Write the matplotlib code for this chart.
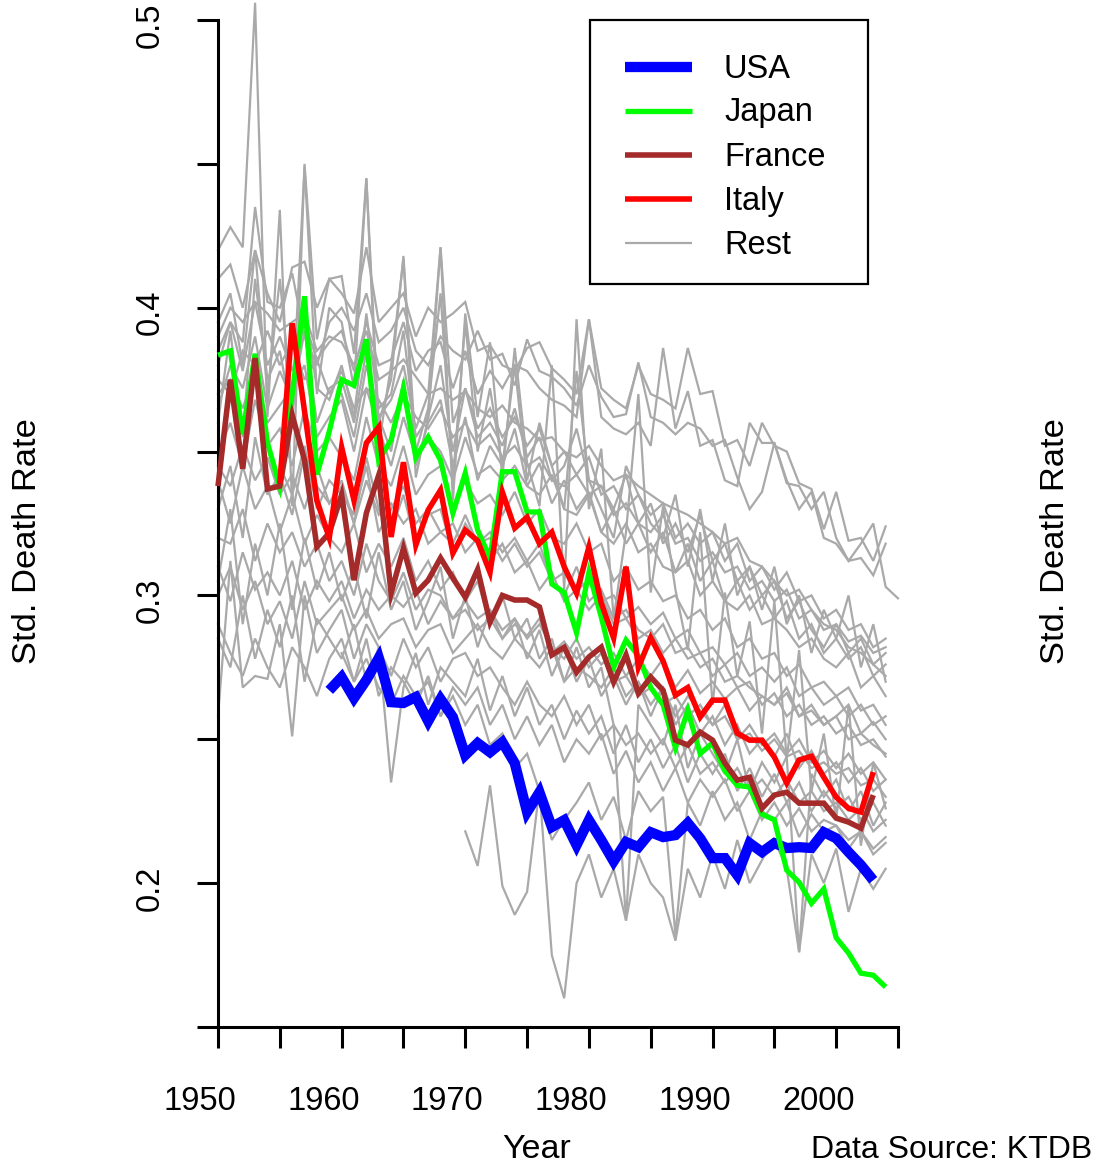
import numpy as np
import matplotlib
matplotlib.use('Agg')
import matplotlib.pyplot as plt
from matplotlib.transforms import offset_copy
from matplotlib.patches import Rectangle
from matplotlib.lines import Line2D

plt.rcParams['font.family'] = ['Liberation Sans', 'DejaVu Sans']

# ---------------- data ----------------
usa_start = 1959
usa = [0.267, 0.2716, 0.2643, 0.2706, 0.2782, 0.2629, 0.2626, 0.2647, 0.2563, 0.264,
       0.2577, 0.2445, 0.2487, 0.2455, 0.249, 0.2417, 0.2247, 0.2316, 0.2195, 0.2219,
       0.2132, 0.2219, 0.215, 0.2076, 0.2143, 0.2125, 0.2177, 0.216, 0.2167, 0.2209,
       0.2156, 0.2087, 0.2087, 0.2028, 0.2139, 0.2108, 0.2139, 0.2122, 0.2125, 0.2122,
       0.2177, 0.2156, 0.2108, 0.2063, 0.201]

japan_start = 1950
japan = [0.3835, 0.385, 0.356, 0.384, 0.353, 0.338, 0.37, 0.404, 0.342, 0.357,
         0.375, 0.373, 0.389, 0.347, 0.354, 0.372, 0.348, 0.355, 0.347, 0.3286,
         0.3425, 0.3227, 0.313, 0.343, 0.343, 0.329, 0.329, 0.304, 0.301, 0.287,
         0.308, 0.2925, 0.275, 0.2845, 0.279, 0.268, 0.262, 0.247, 0.26, 0.245,
         0.2487, 0.239, 0.234, 0.2334, 0.224, 0.222, 0.2045, 0.2003, 0.193, 0.198,
         0.181, 0.1757, 0.1687, 0.168, 0.1639]

france_start = 1950
france = [0.338, 0.375, 0.344, 0.3825, 0.337, 0.338, 0.3627, 0.347, 0.3169, 0.3217,
          0.335, 0.3053, 0.3286, 0.3418, 0.3008, 0.3164, 0.3008, 0.3053, 0.313, 0.306,
          0.2994, 0.309, 0.2907, 0.300, 0.2984, 0.2984, 0.296, 0.2793, 0.282, 0.2733,
          0.2786, 0.282, 0.2699, 0.2793, 0.266, 0.2716, 0.267, 0.2497, 0.248, 0.2525,
          0.2497, 0.2417, 0.2358, 0.2368, 0.226, 0.2306, 0.2316, 0.2278, 0.2278, 0.2278,
          0.2226, 0.2212, 0.2191, 0.2306]

italy_start = 1955
italy = [0.339, 0.3946, 0.364, 0.333, 0.32, 0.3515, 0.333, 0.353, 0.3585, 0.3203,
         0.3463, 0.3175, 0.3297, 0.3366, 0.3147, 0.3227, 0.319, 0.308, 0.3359, 0.3234,
         0.3272, 0.318, 0.322, 0.31, 0.3008, 0.3168, 0.2973, 0.2852, 0.31, 0.275,
         0.2853, 0.2772, 0.2653, 0.268, 0.2577, 0.2636, 0.2636, 0.2521, 0.2497, 0.2497,
         0.2438, 0.2348, 0.2428, 0.2441, 0.2368, 0.2299, 0.226, 0.2247, 0.2386]

# "Rest" countries: start year and values (in thousandths)
rest_starts = [1950] * 12 + [1970, 1960, 1955, 1960] + [1950] * 9
rest_values = [
    [420, 428, 421, 506, 362, 434, 331, 450, 389, 410, 411, 384, 445, 352, 380, 417, 341, 362, 421, 333,
     398, 362, 388, 341, 386, 346, 331, 380, 302, 396, 330, 351, 292, 322, 370, 301, 331, 302, 281, 322,
     262, 301, 272, 291, 252, 298, 243, 281, 232, 252, 222, 262, 213, 242, 226],
    [410, 415, 400, 420, 405, 395, 414, 416, 400, 410, 405, 398, 421, 395, 400, 405, 390, 400, 395, 398,
     402, 385, 387, 380, 378, 386, 388, 379, 375, 370, 396, 372, 368, 365, 380, 370, 368, 365, 386, 370,
     371, 352, 354, 345, 360, 352, 350, 339, 337, 323, 336, 319, 320, 312, 324],
    [380, 395, 388, 435, 402, 400, 412, 390, 380, 395, 400, 392, 405, 388, 392, 400, 385, 380, 390, 385,
     382, 392, 382, 384, 373, 389, 378, 376, 372, 366, 380, 369, 362, 363, 381, 362, 360, 356, 360, 358,
     352, 354, 341, 330, 336, 353, 339, 338, 330, 336, 320, 312, 318, 325, 303, 299],
    [395, 405, 380, 420, 370, 410, 365, 449, 370, 400, 395, 372, 445, 360, 375, 418, 350, 365, 405, 340,
     395, 350, 372, 345, 380, 340, 360, 345, 330, 378, 340, 330, 320, 345, 335, 325, 320, 335, 310, 330,
     305, 325, 300, 310, 295, 310, 290, 300, 280, 295, 285, 300, 275, 290, 270],
    [390, 400, 395, 402, 398, 392, 395, 398, 385, 390, 388, 380, 392, 375, 378, 382, 376, 370, 372, 368,
     371, 365, 362, 366, 360, 358, 354, 355, 350, 348, 352, 345, 340, 342, 338, 335, 332, 330, 328, 325,
     322, 318, 320, 312, 310, 305, 300, 302, 295, 290, 288, 282, 280, 276, 272],
    [370, 375, 365, 378, 360, 366, 372, 380, 355, 362, 368, 350, 372, 358, 345, 362, 348, 355, 350, 340,
     355, 342, 345, 340, 345, 338, 335, 342, 330, 328, 335, 322, 318, 325, 315, 318, 310, 308, 312, 300,
     305, 298, 295, 300, 290, 292, 288, 282, 285, 278, 275, 280, 268, 272, 265],
    [330, 345, 320, 355, 335, 342, 328, 350, 338, 332, 340, 325, 348, 330, 322, 335, 318, 328, 330, 315,
     325, 318, 320, 312, 318, 310, 315, 305, 300, 310, 298, 302, 292, 295, 288, 285, 290, 280, 282, 275,
     278, 270, 272, 268, 265, 262, 268, 258, 260, 255, 258, 250, 252, 248, 245],
    [300, 310, 295, 305, 290, 298, 285, 305, 290, 295, 300, 288, 295, 285, 290, 292, 282, 288, 290, 280,
     285, 290, 282, 278, 285, 280, 275, 282, 270, 275, 272, 268, 275, 265, 270, 262, 268, 258, 265, 260,
     255, 262, 250, 255, 248, 252, 245, 250, 242, 246, 240, 245, 238, 242, 236],
    [258, 312, 268, 272, 271, 290, 251, 300, 280, 288, 295, 278, 290, 282, 272, 285, 275, 282, 270, 278,
     280, 272, 275, 268, 262, 270, 262, 258, 265, 255, 262, 250, 255, 248, 252, 245, 250, 240, 248, 238,
     242, 235, 240, 232, 236, 230, 236, 228, 232, 225, 228, 222, 226, 218, 222],
    [285, 275, 300, 278, 295, 282, 300, 270, 292, 285, 278, 290, 270, 282, 235, 268, 280, 262, 275, 270,
     265, 278, 260, 272, 258, 268, 255, 262, 250, 260, 252, 258, 245, 255, 242, 250, 240, 248, 235, 245,
     238, 245, 232, 240, 230, 238, 228, 235, 225, 232, 226, 230, 222, 228, 220],
    [350, 360, 345, 368, 352, 358, 345, 365, 350, 355, 348, 340, 362, 345, 338, 352, 335, 342, 345, 330,
     340, 332, 335, 328, 336, 325, 330, 320, 318, 325, 315, 318, 305, 310, 302, 305, 298, 300, 292, 295,
     288, 292, 282, 285, 278, 280, 272, 276, 268, 270, 265, 268, 260, 262, 255],
    [360, 392, 355, 410, 375, 385, 362, 400, 372, 368, 380, 362, 398, 365, 370, 392, 355, 362, 380, 350,
     372, 355, 360, 352, 365, 348, 355, 340, 345, 358, 340, 338, 330, 342, 325, 332, 318, 325, 315, 328,
     312, 318, 305, 310, 300, 305, 292, 298, 288, 282, 290, 280, 285, 276, 280],
    [218, 206, 234, 199, 189, 197, 233, 175, 160, 200, 210, 195, 205, 187, 210, 200, 195, 180, 205, 195,
     210, 198, 215, 200, 208, 215, 205, 176, 210, 200, 212, 190, 205, 198, 205],
    [280, 270, 285, 265, 275, 270, 262, 272, 258, 265, 255, 262, 248, 252, 240, 245, 232, 215, 222, 228,
     235, 222, 230, 215, 232, 225, 230, 182, 228, 220, 232, 222, 228, 215, 225, 222, 228, 216, 224, 218,
     220, 212, 218, 210, 214],
    [345, 335, 352, 330, 340, 335, 328, 345, 322, 330, 338, 325, 330, 322, 318, 328, 318, 322, 315, 320,
     312, 318, 305, 308, 302, 305, 298, 300, 292, 296, 290, 294, 285, 288, 280, 282, 276, 280, 272, 275,
     270, 275, 265, 268, 262, 265, 258, 262, 255, 258],
    [370, 355, 380, 362, 350, 375, 345, 360, 368, 345, 362, 340, 352, 345, 358, 338, 346, 332, 340, 330,
     336, 322, 330, 318, 325, 315, 322, 308, 318, 305, 312, 298, 305, 295, 300, 292, 298, 285, 290, 280,
     285, 278, 282, 272, 276],
    [320, 318, 330, 312, 325, 315, 322, 310, 318, 305, 312, 300, 318, 305, 298, 308, 295, 302, 300, 292,
     298, 292, 295, 288, 292, 285, 290, 282, 278, 285, 275, 280, 270, 272, 265, 268, 262, 265, 258, 262,
     255, 258, 250, 252, 246, 250, 244, 246, 240, 242, 238, 240, 234, 236, 230],
    [385, 395, 378, 402, 380, 390, 378, 395, 382, 388, 392, 378, 395, 380, 382, 395, 378, 385, 388, 372,
     385, 370, 378, 372, 380, 378, 372, 368, 366, 362, 396, 362, 358, 356, 360, 352, 386, 358, 371, 352,
     354, 340, 338, 360, 353, 353, 340, 330, 336, 320, 318, 312, 313, 307, 318],
    [310, 298, 315, 302, 308, 300, 312, 295, 305, 298, 305, 292, 302, 295, 300, 296, 302, 290, 298, 292,
     295, 288, 292, 285, 290, 286, 292, 280, 284, 278, 282, 276, 280, 272, 278, 272, 278, 268, 274, 266,
     270, 264, 268, 260, 265, 262, 266, 258, 262, 255, 258, 262, 252, 256, 250],
    [365, 380, 372, 390, 365, 378, 368, 392, 360, 372, 375, 360, 385, 362, 368, 380, 358, 370, 421, 360,
     372, 358, 365, 355, 362, 352, 358, 345, 350, 342, 348, 335, 338, 330, 335, 328, 332, 320, 325, 318,
     322, 312, 318, 305, 310, 302, 308, 298, 300, 292, 295, 288, 290, 282, 285],
    [340, 325, 345, 330, 338, 322, 335, 318, 328, 320, 315, 325, 308, 318, 310, 320, 305, 312, 302, 308,
     298, 305, 290, 300, 285, 292, 278, 285, 270, 282, 268, 275, 255, 187, 262, 255, 248, 262, 240, 252,
     245, 238, 250, 232, 242, 235, 244, 176, 238, 230, 236, 225, 232, 220, 228],
    [345, 338, 352, 340, 348, 335, 342, 330, 345, 332, 338, 325, 340, 328, 332, 325, 330, 318, 322, 325,
     315, 320, 312, 318, 308, 312, 302, 308, 298, 302, 295, 300, 290, 292, 285, 288, 280, 285, 278, 280,
     272, 276, 268, 270, 262, 266, 258, 262, 255, 258, 252, 255, 248, 250, 244],
    [290, 280, 272, 285, 275, 268, 282, 275, 265, 278, 285, 270, 278, 268, 262, 272, 265, 270, 258, 268,
     262, 268, 255, 262, 250, 258, 248, 255, 242, 250, 245, 252, 238, 246, 235, 242, 232, 240, 228, 236,
     230, 236, 225, 232, 222, 228, 220, 226, 218, 222, 220, 215, 218, 212, 216],
    [375, 370, 385, 380, 392, 380, 388, 375, 382, 370, 378, 365, 372, 368, 360, 370, 362, 358, 365, 355,
     360, 352, 356, 348, 352, 345, 348, 340, 338, 342, 335, 338, 328, 332, 325, 322, 328, 318, 320, 312,
     315, 308, 310, 302, 305, 298, 302, 292, 295, 288, 290, 284, 286, 280, 282],
    [305, 330, 290, 318, 300, 325, 295, 320, 302, 315, 298, 310, 292, 315, 295, 305, 288, 298, 310, 285,
     300, 282, 295, 285, 292, 278, 288, 272, 282, 270, 278, 265, 272, 262, 270, 258, 268, 255, 262, 252,
     258, 248, 255, 245, 250, 244, 252, 240, 246, 238, 242, 235, 240, 232, 236],
]

legend_labels = ['USA', 'Japan', 'France', 'Italy', 'Rest']
legend_colors = ['#0000FF', '#00FF00', '#A52A2A', '#FF0000', '#A9A9A9']

x_ticks = list(range(1950, 2006, 5))
x_labels = [1950, 1960, 1970, 1980, 1990, 2000]
y_ticks = [0.15, 0.2, 0.25, 0.3, 0.35, 0.4, 0.45, 0.5]
y_labels = [0.2, 0.3, 0.4, 0.5]

# ---------------- figure ----------------
W, H = 1099, 1170
fig = plt.figure(figsize=(W / 100, H / 100), dpi=100)
fig.patch.set_facecolor('white')
ax = fig.add_axes([218 / W, 1 - 1027 / H, 680 / W, 1007 / H])
ax.set_xlim(1950, 2005)
ax.set_ylim(0.15, 0.5)
ax.patch.set_alpha(0)

GRAY_LW = 1.6
for st, vals in zip(rest_starts, rest_values):
    yrs = np.arange(st, st + len(vals))
    ax.plot(yrs, np.array(vals) / 1000.0, color=legend_colors[4], lw=GRAY_LW,
            clip_on=False, solid_joinstyle='miter', zorder=1)

def draw(start, vals, color, lw, z):
    yrs = np.arange(start, start + len(vals))
    ax.plot(yrs, vals, color=color, lw=lw, clip_on=False, zorder=z,
            solid_joinstyle='miter', solid_capstyle='butt')

draw(usa_start, usa, legend_colors[0], 7.4, 3)
draw(japan_start, japan, legend_colors[1], 3.8, 4)
draw(france_start, france, legend_colors[2], 4.0, 5)
draw(italy_start, italy, legend_colors[3], 4.0, 6)

# axes styling
for s in ['top', 'right']:
    ax.spines[s].set_visible(False)
for s in ['left', 'bottom']:
    ax.spines[s].set_linewidth(2.2)
    ax.spines[s].set_capstyle('projecting')
ax.set_xticks(x_ticks)
ax.set_yticks(y_ticks)
ax.set_xticklabels([])
ax.set_yticklabels([])
ax.tick_params(axis='both', direction='out', length=15, width=2.2, color='black')

FS = 23.5
for yr in x_labels:
    tr = offset_copy(ax.transData, fig=fig, x=-18, y=-75, units='dots')
    ax.text(yr, 0.15, str(yr), transform=tr, ha='center', va='center', fontsize=FS)
for v in y_labels:
    tr = offset_copy(ax.transData, fig=fig, x=-68, y=-5, units='dots')
    ax.text(1950, v, f'{v:.1f}', transform=tr, ha='center', va='center',
            rotation=90, fontsize=FS)

def fx(px):
    return px / W

def fy(py):
    return 1 - py / H

fig.text(fx(537), fy(1150), 'Year', ha='center', va='center', fontsize=24.5)
fig.text(fx(1092), fy(1150), 'Data Source: KTDB', ha='right', va='center', fontsize=23)
fig.text(fx(28), fy(541), 'Std. Death Rate', ha='center', va='center', rotation=90, fontsize=24.8)
fig.text(fx(1055), fy(541), 'Std. Death Rate', ha='center', va='center', rotation=90, fontsize=24.8)

# legend (drawn box)
fig.patches.append(Rectangle((fx(590), fy(284)), fx(868) - fx(590), fy(20) - fy(284),
                             transform=fig.transFigure, fill=False, lw=1.6,
                             edgecolor='black', zorder=10))
leg_lws = [7.4, 3.8, 4.0, 4.0, GRAY_LW]
row_y = [67, 111, 155, 199, 243]
for lab, col, lw, ry in zip(legend_labels, legend_colors, leg_lws, row_y):
    fig.lines.append(Line2D([fx(625), fx(692)], [fy(ry), fy(ry)], color=col, lw=lw,
                            transform=fig.transFigure, solid_capstyle='butt', zorder=11))
    fig.text(fx(724), fy(ry + 2), lab, ha='left', va='center', fontsize=FS, zorder=11)

fig.savefig('out.png', dpi=100, facecolor='white')
